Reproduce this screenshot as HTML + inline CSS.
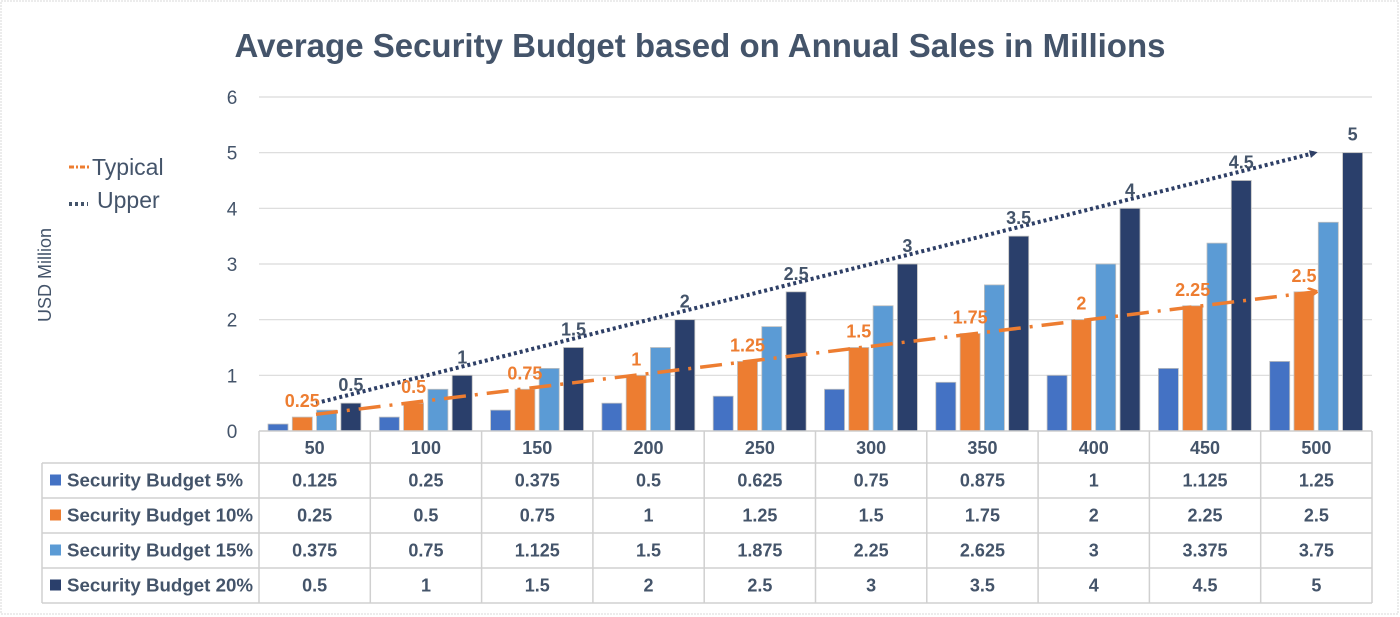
<!DOCTYPE html>
<html><head><meta charset="utf-8"><style>
html,body{margin:0;padding:0;background:#fff;}
svg{display:block;font-family:"Liberation Sans",sans-serif;}
</style></head><body>
<svg id="chart" width="1400" height="617" viewBox="0 0 1400 617">
<rect x="1" y="1" width="1397" height="613" fill="#fff" stroke="#d9d9d9" stroke-dasharray="2,1"/>
<text x="700" y="57" text-anchor="middle" font-size="33" font-weight="bold" fill="#44546a">Average Security Budget based on Annual Sales in Millions</text>
<text transform="translate(51,275) rotate(-90)" text-anchor="middle" font-size="18" fill="#44546a">USD Million</text>
<g>
<line x1="69" y1="167" x2="90" y2="167" stroke="#ed7d31" stroke-width="3" stroke-dasharray="5,2,2,2"/>
<text x="92" y="175" font-size="23" fill="#44546a">Typical</text>
<line x1="69" y1="204" x2="88" y2="204" stroke="#44546a" stroke-width="4" stroke-dasharray="3,3"/>
<text x="97" y="208" font-size="23" fill="#44546a">Upper</text>
</g>
<g id="grid"></g><g id="bars"></g><g id="trends"></g><g id="labels"></g><g id="table"></g>
<defs>
<marker id="arrDark" markerWidth="8" markerHeight="8" refX="6" refY="4" orient="auto" markerUnits="userSpaceOnUse"><path d="M0,0 L8,4 L0,8 z" fill="#2e3f66"/></marker>
<marker id="arrOrange" markerWidth="10" markerHeight="10" refX="8" refY="5" orient="auto" markerUnits="userSpaceOnUse"><path d="M0,0 L10,5 L0,10" fill="none" stroke="#ed7d31" stroke-width="2.5"/></marker>
</defs>
</svg>
<script>
const categories = ["50","100","150","200","250","300","350","400","450","500"];
const seriesNames = ["Security Budget 5%","Security Budget 10%","Security Budget 15%","Security Budget 20%"];
const s5 = [0.125,0.25,0.375,0.5,0.625,0.75,0.875,1,1.125,1.25];
const s10 = [0.25,0.5,0.75,1,1.25,1.5,1.75,2,2.25,2.5];
const s15 = [0.375,0.75,1.125,1.5,1.875,2.25,2.625,3,3.375,3.75];
const s20 = [0.5,1,1.5,2,2.5,3,3.5,4,4.5,5];
const s5Labels = ["0.125","0.25","0.375","0.5","0.625","0.75","0.875","1","1.125","1.25"];
const s10Labels = ["0.25","0.5","0.75","1","1.25","1.5","1.75","2","2.25","2.5"];
const s15Labels = ["0.375","0.75","1.125","1.5","1.875","2.25","2.625","3","3.375","3.75"];
const s20Labels = ["0.5","1","1.5","2","2.5","3","3.5","4","4.5","5"];
const yTicks = [0,1,2,3,4,5,6];
const typicalTrend = [0.3,2.5];
const upperTrend = [0.5,5];

const NS="http://www.w3.org/2000/svg";
const X0=259, X1=1372, Y0=431, Y6=97;
const cw=(X1-X0)/categories.length;
const y=v=>Y0-(v/6)*(Y0-Y6);
const xc=i=>X0+cw*i;
const colors=["#4472c4","#ed7d31","#5b9bd5","#2a3f6b"];
const series=[s5,s10,s15,s20];
const labels=[s5Labels,s10Labels,s15Labels,s20Labels];
function mk(tag,attrs,parent,text){const e=document.createElementNS(NS,tag);for(const k in attrs)e.setAttribute(k,attrs[k]);if(text!==undefined)e.textContent=text;parent.appendChild(e);return e;}

const grid=document.getElementById('grid');
yTicks.forEach(t=>{
  const l=mk('line',{x1:X0,x2:X1,y1:y(t),y2:y(t),stroke:'#d9d9d9','stroke-width':1.2},grid);
  
  
  const tx=mk('text',{x:232,y:y(t)+7,'text-anchor':'middle','font-size':19,fill:'#44546a'},grid,String(t));
  
  
});

const bars=document.getElementById('bars');
const bw=20, gap=4.3, off=9;
series.forEach((s,k)=>{
  s.forEach((v,i)=>{
    const bx=xc(i)+off+k*(bw+gap);
    const r=mk('rect',{x:bx,y:y(v),width:bw,height:Y0-y(v),fill:colors[k],stroke:'#bfbfbf','stroke-width':0.8},bars);
    
    
  });
});

const lab=document.getElementById('labels');
s10.forEach((v,i)=>{
  const bx=xc(i)+off+1*(bw+gap)+bw/2;
  const t=mk('text',{x:bx,y:y(v)-10,'text-anchor':'middle','font-size':18,'font-weight':'bold',fill:'#ed7d31'},lab,s10Labels[i]);
  
  
});
s20.forEach((v,i)=>{
  const bx=xc(i)+off+3*(bw+gap)+bw/2;
  const t=mk('text',{x:bx,y:y(v)-12,'text-anchor':'middle','font-size':18,'font-weight':'bold',fill:'#44546a'},lab,s20Labels[i]);
  
  
});

const tr=document.getElementById('trends');
const tx0=xc(0)+57, tx1=xc(9)+55;
const up=mk('line',{x1:tx0,y1:y(upperTrend[0]),x2:tx1,y2:y(upperTrend[1]),stroke:'#2e3f66','stroke-width':4,'stroke-dasharray':'3,3','marker-end':'url(#arrDark)'},tr);


const ty=mk('line',{x1:tx0,y1:y(typicalTrend[0]),x2:tx1,y2:y(typicalTrend[1]),stroke:'#ed7d31','stroke-width':3.5,'stroke-dasharray':'22,9,3,9','marker-end':'url(#arrOrange)'},tr);



const tb=document.getElementById('table');
const rowY=[431,463,498,533,568,603];
const LX=42;
const bc='#d0d0d0';
mk('line',{x1:X0,x2:X1,y1:431,y2:431,stroke:bc,'stroke-width':1.5},tb);
for(let r=1;r<rowY.length;r++){mk('line',{x1:LX,x2:X1,y1:rowY[r],y2:rowY[r],stroke:bc,'stroke-width':1.5},tb);}
mk('line',{x1:LX,x2:LX,y1:463,y2:603,stroke:bc,'stroke-width':1.5},tb);
for(let i=0;i<=categories.length;i++){mk('line',{x1:xc(i),x2:xc(i),y1:431,y2:603,stroke:bc,'stroke-width':1.5},tb);}
categories.forEach((c,i)=>{
  const t=mk('text',{x:xc(i)+cw/2,y:454,'text-anchor':'middle','font-size':18,'font-weight':'bold',fill:'#44546a'},tb,c);
  
  
});
labels.forEach((ls,k)=>{
  const cy=(rowY[k+1]+rowY[k+2])/2;
  const sw=mk('rect',{x:50,y:cy-6,width:11,height:11,fill:colors[k]},tb);
  
  
  const nm=mk('text',{x:67,y:cy+6,'font-size':18.3,'font-weight':'bold',fill:'#44546a',textLength:186,lengthAdjust:'spacingAndGlyphs'},tb,seriesNames[k]);
  if(k===0) nm.setAttribute('textLength','176');
  
  
  ls.forEach((v,i)=>{
    const t=mk('text',{x:xc(i)+cw/2,y:cy+6,'text-anchor':'middle','font-size':18,'font-weight':'bold',fill:'#44546a'},tb,v);
    
    
  });
});
</script>
</body></html>
